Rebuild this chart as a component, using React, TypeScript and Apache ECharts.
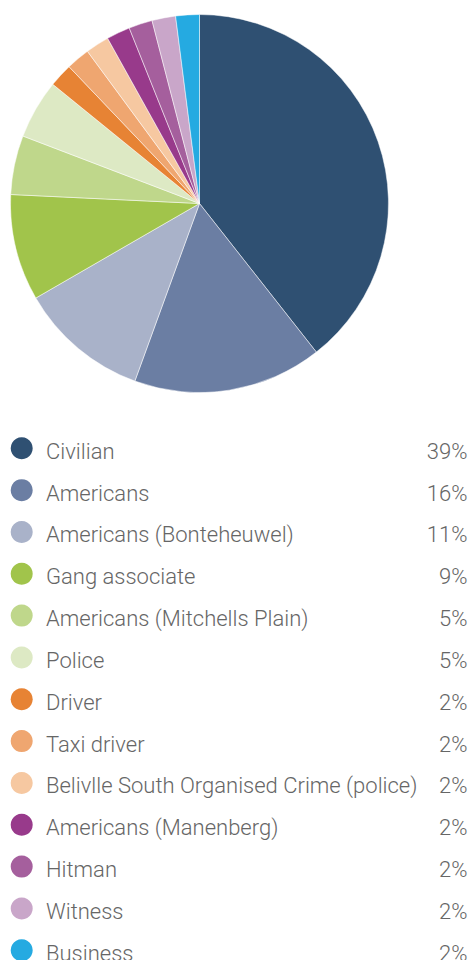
import React, { useEffect, useRef } from "react";
import * as echarts from "echarts";

const categories = [
  "Civilian",
  "Americans",
  "Americans (Bonteheuwel)",
  "Gang associate",
  "Americans (Mitchells Plain)",
  "Police",
  "Driver",
  "Taxi driver",
  "Belivlle South Organised Crime (police)",
  "Americans (Manenberg)",
  "Hitman",
  "Witness",
  "Business",
];
const values = [39, 16, 11, 9, 5, 5, 2, 2, 2, 2, 2, 2, 2];
const colors = [
  "#2f5072",
  "#6b7ea3",
  "#a9b2c9",
  "#a1c44b",
  "#bfd78b",
  "#dde9c4",
  "#e78334",
  "#efa670",
  "#f6c8a1",
  "#983a8b",
  "#a55f9d",
  "#c9a6c9",
  "#25aae1",
];

const LEGEND_TOP = 448.3;
const LEGEND_STEP = 41.83;

export default function App() {
  const ref = useRef<HTMLDivElement>(null);
  useEffect(() => {
    document.body.style.margin = "0";
    const chart = echarts.init(ref.current!, null, { renderer: "svg" });
    const font = {
      fontFamily: "Roboto",
      fontWeight: 300,
      fontSize: 22,
      fill: "#666666",
    };
    const legendEls: any[] = [];
    categories.forEach((c, i) => {
      const y = LEGEND_TOP + i * LEGEND_STEP;
      legendEls.push({
        type: "circle",
        shape: { cx: 21.7, cy: y, r: 11 },
        style: { fill: colors[i] },
        silent: true,
      });
      legendEls.push({
        type: "text",
        x: 46,
        y: y + 3,
        style: { ...font, text: c, align: "left", verticalAlign: "middle" },
        silent: true,
      });
      legendEls.push({
        type: "text",
        x: 467.5,
        y: y + 3,
        style: { ...font, text: `${values[i]}%`, align: "right", verticalAlign: "middle" },
        silent: true,
      });
    });
    chart.setOption({
      animation: false,
      color: colors,
      textStyle: { fontFamily: "Roboto" },
      graphic: legendEls,
      series: [
        {
          type: "pie",
          center: [199.5, 203.5],
          radius: [0, 189],
          startAngle: 90,
          clockwise: true,
          label: { show: false },
          labelLine: { show: false },
          itemStyle: { borderColor: "#ffffff", borderWidth: 0.5 },
          emphasis: { disabled: true },
          data: categories.map((c, i) => ({ name: c, value: values[i] })),
        },
      ],
    });
    return () => chart.dispose();
  }, []);
  return <div ref={ref} style={{ width: 472, height: 960 }} />;
}
